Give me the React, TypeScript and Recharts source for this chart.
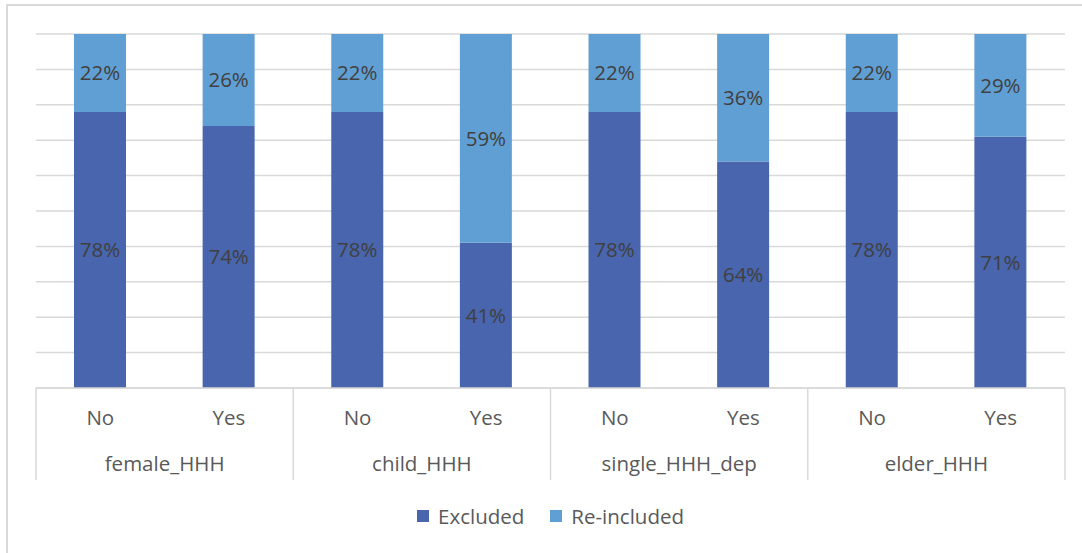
import { BarChart, Bar, XAxis, YAxis, CartesianGrid, Legend, LabelList } from 'recharts';

const subLabels = ['No', 'Yes', 'No', 'Yes', 'No', 'Yes', 'No', 'Yes'];
const groups = ['female_HHH', 'child_HHH', 'single_HHH_dep', 'elder_HHH'];
const excluded = [78, 74, 78, 41, 78, 64, 78, 71];
const reincluded = [22, 26, 22, 59, 22, 36, 22, 29];
const yTicks = [0, 10, 20, 30, 40, 50, 60, 70, 80, 90, 100];

const WIDTH = 1082;
const HEIGHT = 553;
const MARGIN = { top: 34, right: 17, left: 36, bottom: 49 };
const AXIS_H = 46;
const FONT = '"Open Sans", "Noto Sans", sans-serif';
const FS = 20.5;
const GRID = '#d9d9d9';

const data = subLabels.map((s, i) => ({
  sub: s,
  group: groups[Math.floor(i / 2)],
  excluded: excluded[i],
  reincluded: reincluded[i],
}));

const plotW = WIDTH - MARGIN.left - MARGIN.right;
const groupW = plotW / groups.length;

// inner level: No / Yes
const SubTick = ({ x, y, payload }: any) => (
  <text x={x} y={y + 37} textAnchor="middle" fill="#595959" fontSize={FS} fontFamily={FONT}>
    {payload.value}
  </text>
);

// outer level: group name + separators
const GroupTick = ({ x, y, payload, index }: any) => (
  <g>
    <line x1={x - groupW / 2} x2={x - groupW / 2} y1={y - AXIS_H} y2={y + AXIS_H} stroke={GRID} strokeWidth={1.5} />
    {index === groups.length - 1 && (
      <line x1={x + groupW / 2} x2={x + groupW / 2} y1={y - AXIS_H} y2={y + AXIS_H} stroke={GRID} strokeWidth={1.5} />
    )}
    <text x={x} y={y + 37} textAnchor="middle" fill="#595959" fontSize={FS} fontFamily={FONT}>
      {payload.value}
    </text>
  </g>
);

const renderLegend = ({ payload }: any) => (
  <div style={{ display: 'flex', justifyContent: 'center', gap: 26, height: 24, alignItems: 'center' }}>
    {(payload || []).map((p: any) => (
      <div key={p.value} style={{ display: 'flex', alignItems: 'center', gap: 9 }}>
        <span style={{ width: 12, height: 12, background: p.color, display: 'inline-block' }} />
        <span style={{ color: '#595959', fontSize: FS, fontFamily: FONT }}>{p.value}</span>
      </div>
    ))}
  </div>
);

export default function App() {
  return (
    <div style={{ position: 'absolute', left: 0, top: 0, width: WIDTH, height: HEIGHT, overflow: 'hidden', background: '#fff', fontFamily: FONT }}>
      <div style={{ position: 'absolute', left: 6, top: 4, width: 1200, height: 700, border: `2px solid ${GRID}` }} />
      <div style={{ position: 'absolute', left: 0, top: 0 }}>
        <BarChart width={WIDTH} height={HEIGHT} data={data} margin={MARGIN}>
          <CartesianGrid xAxisId="a_sub" vertical={false} stroke={GRID} strokeWidth={1.5} />
          <XAxis
            xAxisId="a_sub"
            dataKey="sub"
            height={AXIS_H}
            tickSize={0}
            tickMargin={0}
            tickLine={false}
            axisLine={{ stroke: GRID, strokeWidth: 1.5 }}
            tick={<SubTick />}
            interval={0}
          />
          <XAxis
            xAxisId="b_group"
            dataKey="group"
            allowDuplicatedCategory={false}
            height={AXIS_H}
            tickSize={0}
            tickMargin={0}
            tickLine={false}
            axisLine={false}
            tick={<GroupTick />}
            interval={0}
          />
          <YAxis hide domain={[0, 100]} ticks={yTicks} />
          <Legend content={renderLegend} wrapperStyle={{ top: 504, bottom: 'auto' }} />
          <Bar xAxisId="a_sub" dataKey="excluded" name="Excluded" stackId="a" fill="#4865ad" barSize={52} isAnimationActive={false}>
            <LabelList dataKey="excluded" position="center" formatter={(v: any) => `${v}%`} fill="#404040" fontSize={FS} fontFamily={FONT} />
          </Bar>
          <Bar xAxisId="a_sub" dataKey="reincluded" name="Re-included" stackId="a" fill="#609fd3" barSize={52} isAnimationActive={false}>
            <LabelList dataKey="reincluded" position="center" formatter={(v: any) => `${v}%`} fill="#404040" fontSize={FS} fontFamily={FONT} />
          </Bar>
        </BarChart>
      </div>
    </div>
  );
}
